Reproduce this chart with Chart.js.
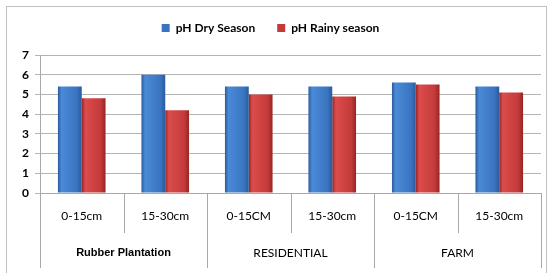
<!DOCTYPE html>
<html>
<head>
<meta charset="utf-8">
<script src="https://cdn.jsdelivr.net/npm/chart.js@4"></script>
<style>
  html, body { margin: 0; padding: 0; background: #fff; }
  #wrap { position: relative; width: 552px; height: 273px; }
</style>
</head>
<body>
<div id="wrap"><canvas id="myChart" width="552" height="273"></canvas></div>
<script>
// soil pH by depth, two seasons
const depthLabels = ['0-15cm', '15-30cm', '0-15CM', '15-30cm', '0-15CM', '15-30cm']
const groupLabels = ['Rubber Plantation', 'RESIDENTIAL', 'FARM']
const dryValues = [5.4, 6.0, 5.4, 5.4, 5.6, 5.4]
const rainyValues = [4.8, 4.2, 5.0, 4.9, 5.5, 5.1]
const yTicks = [0, 1, 2, 3, 4, 5, 6, 7]

const ctx = document.getElementById('myChart')

// horizontal shading so bars look a bit like the excel 3d ones
const shadeBars = {
  id: 'shadeBars',
  beforeDatasetsDraw(chart) {
    const c = chart.ctx
    const cols = [['#2a5a9c', '#4a8ad8', '#3a74c0'], ['#962424', '#dc4c4c', '#c43a3a']]
    chart.data.datasets.forEach((ds, i) => {
      chart.getDatasetMeta(i).data.forEach(el => {
        const l = el.x - el.width / 2, r = el.x + el.width / 2
        const g = c.createLinearGradient(l, 0, r, 0)
        g.addColorStop(0, cols[i][0])
        g.addColorStop(0.15, cols[i][1])
        g.addColorStop(0.8, cols[i][2])
        g.addColorStop(1, cols[i][0])
        // options are shared between bars, so give each its own copy
        el.options = Object.assign({}, el.options, { backgroundColor: g })
      })
    })
  }
}

// more room under the legend
const legendGap = {
  id: 'legendGap',
  beforeInit(chart) {
    const fit = chart.legend.fit
    chart.legend.fit = function () {
      fit.call(this)
      this.height += 11
    }
  }
}

// separators + group row under the x axis, and the outer frame
const groupAxis = {
  id: 'groupAxis',
  afterDraw(chart) {
    const c = chart.ctx
    const x = chart.scales.x
    const area = chart.chartArea
    const half = (x.getPixelForValue(1) - x.getPixelForValue(0)) / 2
    c.save()
    c.strokeStyle = '#a8a8a8'
    c.lineWidth = 1
    c.beginPath()
    for (let i = 0; i <= depthLabels.length; i++) {
      const px = Math.round(x.getPixelForValue(i) - half) + 0.5
      const long = i % 2 === 0
      c.moveTo(px, area.bottom)
      c.lineTo(px, long ? 268 : 233)
    }
    c.stroke()
    // outer frame
    c.strokeStyle = '#c0c0c0'
    c.strokeRect(6.5, 6.5, 540, 280)
    c.fillStyle = '#000'
    c.textAlign = 'center'
    c.textBaseline = 'middle'
    groupLabels.forEach((g, i) => {
      const px = (x.getPixelForValue(i * 2) + x.getPixelForValue(i * 2 + 1)) / 2
      c.font = i === 0 ? 'bold 11px "Liberation Sans"' : '12px Lato'
      c.fillText(g, px, 253)
    })
    c.restore()
  }
}

new Chart(ctx, {
  type: 'bar',
  data: {
    labels: depthLabels,
    datasets: [
      { label: 'pH Dry Season', data: dryValues, backgroundColor: '#3a74c0', borderWidth: 0 },
      { label: 'pH Rainy season', data: rainyValues, backgroundColor: '#c43a3a', borderWidth: 0 }
    ]
  },
  options: {
    responsive: false,
    animation: false,
    layout: { padding: { top: 0, right: 11, left: 0, bottom: 0 } },
    datasets: { bar: { categoryPercentage: 0.57, barPercentage: 1 } },
    plugins: {
      tooltip: { enabled: false },
      legend: {
        labels: {
          boxWidth: 8, boxHeight: 8, padding: 22, color: '#000',
          font: { family: 'Lato', size: 12, weight: 'bold' }
        }
      }
    },
    scales: {
      x: {
        grid: { display: false },
        border: { color: '#a8a8a8' },
        ticks: { color: '#000', padding: 8, font: { family: 'Lato', size: 12 } },
        afterFit(s) { s.height = 80 }
      },
      y: {
        min: 0, max: 7,
        afterBuildTicks(s) { s.ticks = yTicks.map(v => ({ value: v })) },
        grid: { color: '#b4b4b4', tickLength: 5 },
        border: { color: '#a8a8a8' },
        ticks: { color: '#000', padding: 6, font: { family: 'Lato', size: 12, weight: 'bold' } },
        afterFit(s) { s.width = 40 }
      }
    }
  },
  plugins: [shadeBars, legendGap, groupAxis]
})
</script>
</body>
</html>
